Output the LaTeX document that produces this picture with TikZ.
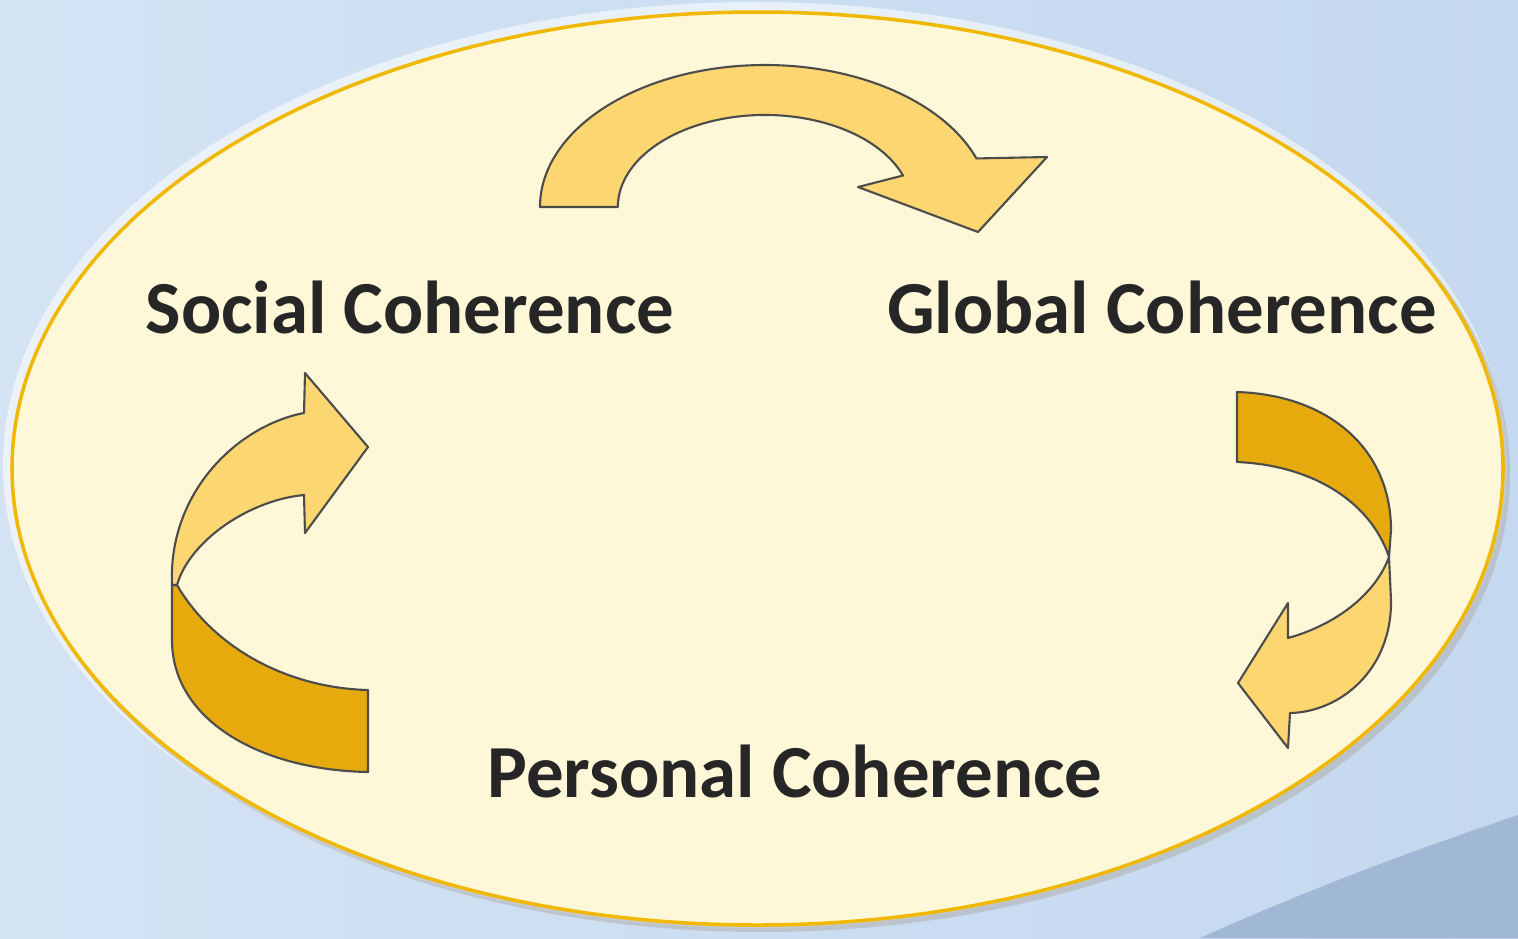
\documentclass[tikz,border=0pt]{standalone}
\usepackage{fontspec}
\setmainfont{Carlito}
\usepackage{tikz}
\usetikzlibrary{positioning}
\definecolor{bgblue}{RGB}{196,216,239}
\definecolor{bgbluelight}{RGB}{212,227,244}
\definecolor{bgdark}{RGB}{160,184,212}
\definecolor{creamfill}{RGB}{255,248,216}
\definecolor{goldline}{RGB}{240,184,0}
\definecolor{arrowlight}{RGB}{252,214,112}
\definecolor{arrowdark}{RGB}{230,170,12}
\definecolor{textdark}{RGB}{38,38,38}

\begin{document}
\begin{tikzpicture}[x=0.01cm,y=-0.01cm,
cohtext/.style={font=\fontsize{21.3}{25}\selectfont\bfseries,text=textdark,anchor=base,inner sep=0pt},
lightband/.style={draw=black!70,line width=0.6pt,fill=arrowlight,line join=round},
darkband/.style={draw=black!70,line width=0.6pt,fill=arrowdark,line join=round}]
\useasboundingbox (0,0) rectangle (1518,938);
\shade[left color=bgbluelight,right color=bgblue] (0,0) rectangle (1518,938);
\fill[bgdark] (1200,938) .. controls (1330,880) and (1430,845) .. (1518,815) -- (1518,938) -- cycle;
\fill[white,opacity=0.55] (755,465) ellipse[x radius=752,y radius=463];
\fill[black!30,opacity=0.6] (762,474) ellipse[x radius=748,y radius=458];
\filldraw[fill=creamfill,draw=goldline,line width=1pt] (757.5,468.5) ellipse[x radius=745.5,y radius=456.5];

\filldraw[lightband] (540,207) arc[start angle=-180,end angle=-20,x radius=225,y radius=142]
  -- (1047,157) -- (978,232) -- (858,187) -- (903,175.5)
  arc[start angle=-20,end angle=-180,x radius=147,y radius=92] -- cycle;

\filldraw[darkband] (177,585) .. controls (215,650) and (290,688) .. (368,690) -- (368,772)
  .. controls (260,770) and (172,720) .. (172,640) -- (172,585) -- cycle;
\filldraw[lightband] (172,585) .. controls (168,490) and (240,425) .. (304,413) -- (305,373)
  -- (368,447) -- (305,533) -- (304,495) .. controls (250,500) and (190,540) .. (177,585) -- cycle;

\filldraw[darkband] (1237,392) .. controls (1330,395) and (1391,450) .. (1391,530) -- (1389,557)
  .. controls (1370,500) and (1310,465) .. (1237,462) -- cycle;
\filldraw[lightband] (1389,557) -- (1391,600) .. controls (1392,670) and (1340,712) .. (1290,713)
  -- (1288,748) -- (1238,683) -- (1288,603) -- (1288,638) .. controls (1335,625) and (1375,595) .. (1389,557) -- cycle;

\node[cohtext] (social) at (410,333) {Social Coherence};
\node[cohtext] (global) at (1162,333) {Global Coherence};
\node[cohtext] (personal) at (795,797) {Personal Coherence};
\end{tikzpicture}
\end{document}
